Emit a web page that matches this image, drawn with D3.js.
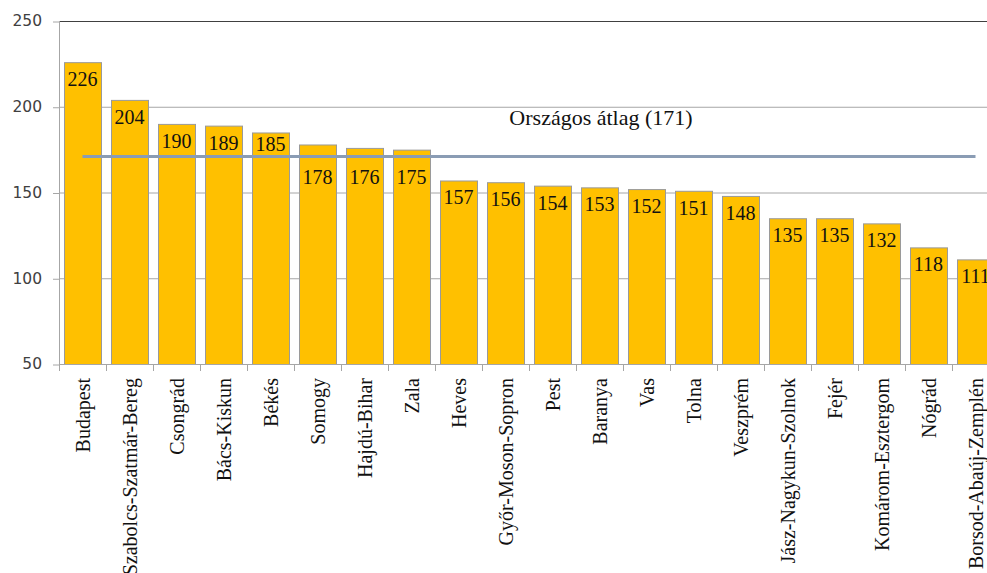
<!DOCTYPE html>
<html>
<head>
<meta charset="utf-8">
<script src="https://cdn.jsdelivr.net/npm/d3@7"></script>
<style>
  body { margin: 0; background: #fff; }
  .y-axis text { font-family: 'DejaVu Sans', Verdana, sans-serif; font-size: 15.5px; fill: #404040; }
  .x-axis text { font-family: 'Liberation Serif', 'Times New Roman', serif; font-size: 20px; fill: #111; }
  .axis path { display: none; }
</style>
</head>
<body>
<div id="chart"></div>
<script>
const counties = ['Budapest', 'Szabolcs-Szatmár-Bereg', 'Csongrád', 'Bács-Kiskun', 'Békés',
  'Somogy', 'Hajdú-Bihar', 'Zala', 'Heves', 'Győr-Moson-Sopron', 'Pest', 'Baranya', 'Vas',
  'Tolna', 'Veszprém', 'Jász-Nagykun-Szolnok', 'Fejér', 'Komárom-Esztergom', 'Nógrád',
  'Borsod-Abaúj-Zemplén']
const values = [226, 204, 190, 189, 185, 178, 176, 175, 157, 156, 154, 153, 152, 151, 148,
  135, 135, 132, 118, 111]
const average = 171
const averageLabel = 'Országos átlag (171)'
const yTicks = [50, 100, 150, 200, 250]

const margin = { top: 21, left: 59, bottom: 209 }
const width = 940
const height = 573 - margin.top - margin.bottom

const svg = d3
  .select('#chart')
  .append('svg')
  .attr('width', 987)
  .attr('height', 573)
  .append('g')
  .attr('transform', 'translate(' + margin.left + ',' + margin.top + ')')

const xPositionScale = d3
  .scaleBand()
  .domain(counties)
  .range([0, width])
  .paddingInner(10 / 47)
  .paddingOuter(5 / 47)

const yPositionScale = d3
  .scaleLinear()
  .domain([50, 250])
  .range([height, 0])

// gridlines
svg
  .selectAll('.grid')
  .data(yTicks)
  .enter()
  .append('line')
  .attr('class', 'grid')
  .attr('x1', 0)
  .attr('x2', width)
  .attr('y1', d => yPositionScale(d) + 0.5)
  .attr('y2', d => yPositionScale(d) + 0.5)
  .attr('stroke', d => (d === 250 ? '#404040' : '#a6a6a6'))
  .attr('stroke-width', 1)

// y axis
const yAxis = d3.axisLeft(yPositionScale).tickValues(yTicks).tickSize(6).tickPadding(11)
const yG = svg.append('g').attr('class', 'axis y-axis').call(yAxis)
yG.selectAll('.tick line').attr('stroke', '#a6a6a6').attr('transform', 'translate(0,0.5)')
svg
  .append('line')
  .attr('x1', 0.5)
  .attr('x2', 0.5)
  .attr('y1', 0)
  .attr('y2', height)
  .attr('stroke', '#a6a6a6')

// bars
svg
  .selectAll('.bar')
  .data(values)
  .enter()
  .append('rect')
  .attr('class', 'bar')
  .attr('x', (d, i) => xPositionScale(counties[i]) + 0.5)
  .attr('y', d => yPositionScale(d) + 0.5)
  .attr('width', xPositionScale.bandwidth())
  .attr('height', d => height - yPositionScale(d))
  .attr('fill', '#ffc000')
  .attr('stroke', '#9a9a9a')
  .attr('stroke-width', 1)

// x axis line + ticks between categories
svg
  .append('line')
  .attr('x1', 0)
  .attr('x2', width)
  .attr('y1', height + 0.5)
  .attr('y2', height + 0.5)
  .attr('stroke', '#a6a6a6')

svg
  .selectAll('.xtick')
  .data(d3.range(counties.length + 1))
  .enter()
  .append('line')
  .attr('class', 'xtick')
  .attr('x1', i => i * xPositionScale.step() + 0.5)
  .attr('x2', i => i * xPositionScale.step() + 0.5)
  .attr('y1', height)
  .attr('y2', height + 7)
  .attr('stroke', '#a6a6a6')

const xG = svg
  .append('g')
  .attr('class', 'axis x-axis')
  .attr('transform', 'translate(0,' + height + ')')
  .call(d3.axisBottom(xPositionScale).tickSize(0))
xG.selectAll('text')
  .attr('text-anchor', 'end')
  .attr('transform', 'rotate(-90)')
  .attr('x', -14)
  .attr('y', 0)
  .attr('dy', '0.35em')

// average line
const avgY = yPositionScale(average)
svg
  .append('line')
  .attr('x1', xPositionScale(counties[0]) + xPositionScale.bandwidth() / 2)
  .attr('x2', xPositionScale(counties[counties.length - 1]) + xPositionScale.bandwidth() / 2)
  .attr('y1', avgY)
  .attr('y2', avgY)
  .attr('stroke', '#8a9cb4')
  .attr('stroke-width', 3)

svg
  .append('text')
  .attr('x', 542)
  .attr('y', 104)
  .attr('text-anchor', 'middle')
  .attr('font-family', "'Liberation Serif', 'Times New Roman', serif")
  .attr('font-size', 22)
  .attr('fill', '#111')
  .text(averageLabel)

// value labels, nudged off the average line like the original
svg
  .selectAll('.value')
  .data(values)
  .enter()
  .append('text')
  .attr('class', 'value')
  .attr('x', (d, i) => xPositionScale(counties[i]) + xPositionScale.bandwidth() / 2)
  .attr('y', function(d) {
    const top = yPositionScale(d)
    let base = top + 24
    if (base - 15 < avgY + 3 && base > avgY - 2) {
      base = top + 18 < avgY - 2 ? avgY - 5 : avgY + 28
    }
    return base
  })
  .attr('text-anchor', 'middle')
  .attr('font-family', "'Liberation Serif', 'Times New Roman', serif")
  .attr('font-size', 20)
  .attr('fill', '#111')
  .text(d => d)
</script>
</body>
</html>
